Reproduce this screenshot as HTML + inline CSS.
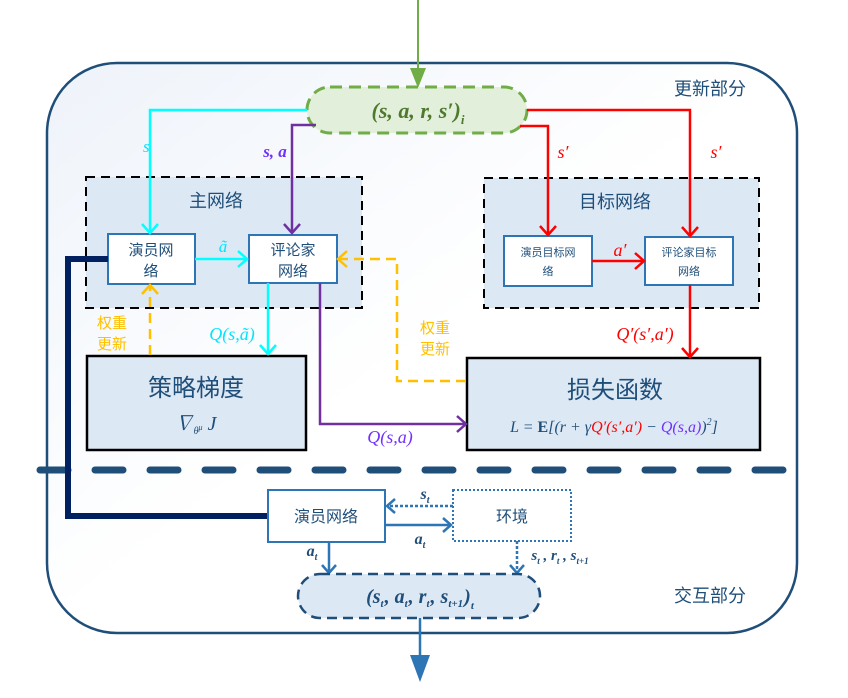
<!DOCTYPE html>
<html><head><meta charset="utf-8"><style>
html,body{margin:0;padding:0;background:#fff}
svg{display:block}
text{font-family:"Liberation Sans","Noto Sans CJK SC",sans-serif}
.m{font-family:"Liberation Serif","Noto Serif CJK SC",serif;font-style:italic}
</style></head><body>
<svg width="848" height="698" viewBox="0 0 848 698">
<defs>
<linearGradient id="bg" x1="0" y1="0" x2="1" y2="1"><stop offset="0" stop-color="#eef3fa"/><stop offset="0.5" stop-color="#fff"/><stop offset="1" stop-color="#fff"/></linearGradient>
</defs>
<rect x="47" y="63" width="750" height="570" rx="70" fill="url(#bg)" stroke="#1f4e79" stroke-width="2.5"/>
<text x="710" y="95" font-size="18" fill="#1f4e79" text-anchor="middle">更新部分</text>
<text x="710" y="602" font-size="18" fill="#1f4e79" text-anchor="middle">交互部分</text>

<g>
<line x1="418" y1="0" x2="418" y2="72" stroke="#70ad47" stroke-width="2"/>
<polygon points="410,68 426,68 418,88" fill="#70ad47"/>
</g>
<rect x="307" y="87" width="220" height="46" rx="23" fill="#e2efda" stroke="#70ad47" stroke-width="3" stroke-dasharray="12,7"/>
<text x="418" y="118" font-size="22" class="m" font-weight="bold" fill="#4f7a2e" text-anchor="middle">(s, a, r, s′)<tspan font-size="13" dy="6">i</tspan></text>

<rect x="86" y="177" width="276" height="131" fill="#dde8f5" stroke="#000" stroke-width="2" stroke-dasharray="9,6"/>
<text x="216" y="207" font-size="18" fill="#1f4e79" text-anchor="middle">主网络</text>
<rect x="108" y="234" width="87" height="50" fill="#fff" stroke="#2e75b6" stroke-width="2"/>
<text x="151" y="255" font-size="15" fill="#1f4e79" text-anchor="middle">演员网</text>
<text x="151" y="276" font-size="15" fill="#1f4e79" text-anchor="middle">络</text>
<rect x="249" y="235" width="88" height="48" fill="#fff" stroke="#2e75b6" stroke-width="2"/>
<text x="293" y="255" font-size="15" fill="#1f4e79" text-anchor="middle">评论家</text>
<text x="293" y="276" font-size="15" fill="#1f4e79" text-anchor="middle">网络</text>

<rect x="484" y="178" width="275" height="130" fill="#dde8f5" stroke="#000" stroke-width="2" stroke-dasharray="9,6"/>
<text x="615" y="208" font-size="18" fill="#1f4e79" text-anchor="middle">目标网络</text>
<rect x="504" y="236" width="88" height="50" fill="#fff" stroke="#2e75b6" stroke-width="2"/>
<text x="548" y="256" font-size="11" fill="#1f4e79" text-anchor="middle">演员目标网</text>
<text x="548" y="275" font-size="11" fill="#1f4e79" text-anchor="middle">络</text>
<rect x="645" y="237" width="88" height="48" fill="#fff" stroke="#2e75b6" stroke-width="2"/>
<text x="689" y="256" font-size="11" fill="#1f4e79" text-anchor="middle">评论家目标</text>
<text x="689" y="275" font-size="11" fill="#1f4e79" text-anchor="middle">网络</text>

<rect x="87" y="356" width="219" height="94" fill="#dde8f5" stroke="#000" stroke-width="2.5"/>
<text x="196" y="396" font-size="24" fill="#1f4e79" text-anchor="middle">策略梯度</text>
<text x="195" y="430" font-size="20" class="m" fill="#1f4e79" text-anchor="middle">∇<tspan font-size="10" dy="4">θ<tspan dy="-4" font-size="8">μ</tspan></tspan><tspan dy="0"> J</tspan></text>
<rect x="467" y="358" width="293" height="92" fill="#dde8f5" stroke="#000" stroke-width="2.5"/>
<text x="615" y="398" font-size="24" fill="#1f4e79" text-anchor="middle">损失函数</text>
<text x="614" y="432" font-size="16" class="m" fill="#1f4e79" text-anchor="middle">L = <tspan font-style="normal" font-weight="bold">E</tspan>[(r + γ<tspan fill="#ff0000">Q′(s′,a′)</tspan> − <tspan fill="#7030ff">Q(s,a)</tspan>)<tspan font-size="10" dy="-7">2</tspan><tspan dy="7">]</tspan></text>

<g stroke="#00ffff" stroke-width="2.5" fill="none">
<polyline points="307,110 150,110 150,233"/>
<polyline points="142,224 150,233 158,224"/>
<line x1="195" y1="259" x2="247" y2="259"/>
<polyline points="238,251 247,259 238,267"/>
<polyline points="268,283 268,354"/>
<polyline points="260,345 268,354 276,345"/>
</g>
<text x="143" y="152" font-size="17" class="m" fill="#00e5ff">s</text>
<text x="223" y="252" font-size="17" class="m" fill="#00e5ff" text-anchor="middle">ã</text>
<text x="232" y="340" font-size="18" class="m" fill="#00e5ff" text-anchor="middle">Q(s,ã)</text>

<g stroke="#7030a0" stroke-width="2.5" fill="none">
<polyline points="316,125 292,125 292,233"/>
<polyline points="284,224 292,233 300,224"/>
<polyline points="320,283 320,424 466,424"/>
<polyline points="457,416 466,424 457,432"/>
</g>
<text x="275" y="157" font-size="17" class="m" font-weight="bold" fill="#7030ff" text-anchor="middle">s, a</text>
<text x="390" y="443" font-size="18" class="m" fill="#7030ff" text-anchor="middle">Q(s,a)</text>

<g stroke="#ffc000" stroke-width="2.5" fill="none" stroke-dasharray="10,6">
<line x1="150" y1="355" x2="150" y2="286"/>
<polyline points="466,381 397,381 397,259 339,259"/>
</g>
<g stroke="#ffc000" stroke-width="2.5" fill="none"><polyline points="142,294 150,285 158,294"/><polyline points="347,251 338,259 347,267"/></g>
<text x="112" y="328" font-size="15" fill="#ffc000" text-anchor="middle">权重</text>
<text x="112" y="349" font-size="15" fill="#ffc000" text-anchor="middle">更新</text>
<text x="435" y="333" font-size="15" fill="#ffc000" text-anchor="middle">权重</text>
<text x="435" y="354" font-size="15" fill="#ffc000" text-anchor="middle">更新</text>

<g stroke="#ff0000" stroke-width="2.5" fill="none">
<polyline points="520,126 548,126 548,234"/>
<polyline points="540,226 548,235 556,226"/>
<polyline points="527,110 690,110 690,235"/>
<polyline points="682,227 690,236 698,227"/>
<line x1="592" y1="261" x2="643" y2="261"/>
<polyline points="635,253 644,261 635,269"/>
<line x1="690" y1="285" x2="690" y2="357"/>
<polyline points="682,348 690,357 698,348"/>
</g>
<text x="563" y="158" font-size="18" class="m" fill="#ff0000" text-anchor="middle">s′</text>
<text x="716" y="158" font-size="18" class="m" fill="#ff0000" text-anchor="middle">s′</text>
<text x="620" y="256" font-size="18" class="m" fill="#ff0000" text-anchor="middle">a′</text>
<text x="645" y="340" font-size="18" class="m" fill="#ff0000" text-anchor="middle">Q′(s′,a′)</text>

<line x1="40" y1="470" x2="797" y2="470" stroke="#1f4e79" stroke-width="7" stroke-linecap="round" stroke-dasharray="28,27"/>

<polyline points="108,259 68,259 68,516 268,516" fill="none" stroke="#002060" stroke-width="6"/>

<rect x="268" y="490" width="117" height="52" fill="#fff" stroke="#2e75b6" stroke-width="2"/>
<text x="326" y="522" font-size="16" fill="#1f4e79" text-anchor="middle">演员网络</text>
<rect x="453" y="490" width="118" height="51" fill="#fff" stroke="#2e75b6" stroke-width="2" stroke-dasharray="2,2"/>
<text x="512" y="522" font-size="16" fill="#1f4e79" text-anchor="middle">环境</text>
<g stroke="#2e75b6" stroke-width="2.5" fill="none">
<line x1="453" y1="506" x2="387" y2="506" stroke-dasharray="3,2"/>
<polyline points="395,499 387,506 395,513"/>
<line x1="385" y1="525" x2="451" y2="525"/>
<polyline points="443,518 451,525 443,532"/>
<line x1="329" y1="542" x2="329" y2="573"/>
<polyline points="322,565 329,573 336,565"/>
<line x1="517" y1="541" x2="517" y2="573" stroke-dasharray="3,2"/>
<polyline points="510,565 517,573 524,565"/>
<line x1="420" y1="618" x2="420" y2="660"/>
</g>
<polygon points="410,655 430,655 420,682" fill="#2e75b6"/>
<text x="425" y="499" font-size="16" class="m" font-weight="bold" fill="#1f4e79" text-anchor="middle">s<tspan font-size="10" dy="4">t</tspan></text>
<text x="420" y="544" font-size="16" class="m" font-weight="bold" fill="#1f4e79" text-anchor="middle">a<tspan font-size="10" dy="4">t</tspan></text>
<text x="312" y="556" font-size="16" class="m" font-weight="bold" fill="#1f4e79" text-anchor="middle">a<tspan font-size="10" dy="4">t</tspan></text>
<text x="560" y="560" font-size="15" class="m" font-weight="bold" fill="#1f4e79" text-anchor="middle">s<tspan font-size="9" dy="4">t</tspan><tspan dy="-4"> , r</tspan><tspan font-size="9" dy="4">t</tspan><tspan dy="-4"> , s</tspan><tspan font-size="9" dy="4">t+1</tspan></text>
<rect x="298" y="574" width="242" height="44" rx="22" fill="#dde8f5" stroke="#1f4e79" stroke-width="2.5" stroke-dasharray="10,6"/>
<text x="420" y="603" font-size="20" class="m" font-weight="bold" fill="#1f4e79" text-anchor="middle">(s<tspan font-size="11" dy="4">t</tspan><tspan dy="-4" dx="1">, a</tspan><tspan font-size="11" dy="4">t</tspan><tspan dy="-4" dx="1">, r</tspan><tspan font-size="11" dy="4">t</tspan><tspan dy="-4" dx="1">, s</tspan><tspan font-size="11" dy="4">t+1</tspan><tspan dy="-4" dx="1">)</tspan><tspan font-size="11" dy="6">t</tspan></text>
</svg>
</body></html>
